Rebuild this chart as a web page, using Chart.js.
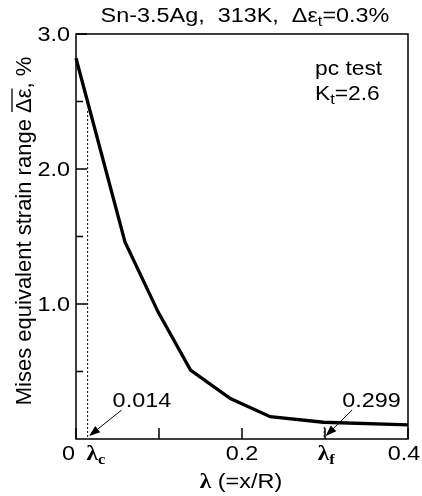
<!DOCTYPE html>
<html>
<head>
<meta charset="utf-8">
<script src="https://cdn.jsdelivr.net/npm/chart.js@4.4.1/dist/chart.umd.min.js"></script>
<style>
  html, body { margin: 0; padding: 0; background: #fff; }
  canvas { display: block; }
</style>
</head>
<body>
<canvas id="grafico" width="422" height="496"></canvas>
<script>
// valores
const lambda = [0, 0.059, 0.099, 0.138, 0.186, 0.234, 0.298, 0.4];
const rangoDeformacion = [2.82, 1.46, 0.94, 0.51, 0.30, 0.165, 0.124, 0.105];

const xTicks = [0, 0.1, 0.2, 0.3, 0.4];
const xTickLabels = ['0', '', '0.2', '', '0.4'];
const yMajor = [1, 2, 3];
const yMinor = [0.5, 1.5, 2.5];
const yTickLabels = ['1.0', '2.0', '3.0'];

// marcas lambda_c y lambda_f
const marcas = [0.014, 0.299];
const marcasTexto = ['0.014', '0.299'];
const marcasTope = [2.43, 0.09];
const marcasSub = ['c', 'f'];

const SANS = '"Liberation Sans", Arial, sans-serif';
const SERIF = '"Liberation Serif", "Times New Roman", serif';
const SX = 1.17; // la figura original esta estirada en horizontal

const medirTrozos = (ctx, trozos, sx = SX) => {
  let w = 0;
  trozos.forEach(t => {
    ctx.font = t.font;
    w += ctx.measureText(t.t).width * sx;
  });
  return w;
}

// dibuja trozos de texto (con subindices) estirados en x
const dibujarTrozos = (ctx, trozos, x, y, sx = SX) => {
  const pos = [];
  trozos.forEach(t => {
    ctx.font = t.font;
    const w = ctx.measureText(t.t).width * sx;
    ctx.save();
    ctx.translate(x, y + (t.dy || 0));
    ctx.scale(sx, 1);
    ctx.fillText(t.t, 0, 0);
    ctx.restore();
    pos.push({x, w});
    x += w;
  });
  return pos;
}

const texto = (ctx, t, x, y, font, align) => {
  const trozos = [{t, font}];
  const w = medirTrozos(ctx, trozos);
  if (align === 'right') x -= w;
  if (align === 'center') x -= w / 2;
  dibujarTrozos(ctx, trozos, x, y);
}

const flecha = (ctx, x1, y1, x2, y2) => {
  const ang = Math.atan2(y2 - y1, x2 - x1);
  const largo = 11, ancho = 4;
  const bx = x2 - largo * Math.cos(ang), by = y2 - largo * Math.sin(ang);
  ctx.beginPath();
  ctx.moveTo(x1, y1);
  ctx.lineTo(bx, by);
  ctx.lineWidth = 1;
  ctx.stroke();
  ctx.beginPath();
  ctx.moveTo(x2, y2);
  ctx.lineTo(bx + ancho * Math.sin(ang), by - ancho * Math.cos(ang));
  ctx.lineTo(bx - ancho * Math.sin(ang), by + ancho * Math.cos(ang));
  ctx.closePath();
  ctx.fill();
}

const ejesPlugin = {
  id: 'ejes',
  afterDraw(chart) {
    const ctx = chart.ctx;
    const {left, right, top, bottom} = chart.chartArea;
    const sx = chart.scales.x, sy = chart.scales.y;
    ctx.save();
    ctx.fillStyle = '#000';
    ctx.strokeStyle = '#000';

    // marco
    ctx.lineWidth = 1.5;
    ctx.strokeRect(left, top, right - left, bottom - top);

    // ticks hacia adentro
    ctx.beginPath();
    xTicks.forEach(v => {
      const px = sx.getPixelForValue(v);
      ctx.moveTo(px, bottom);
      ctx.lineTo(px, bottom - 11);
    });
    yMajor.forEach(v => {
      const py = sy.getPixelForValue(v);
      ctx.moveTo(left, py);
      ctx.lineTo(left + 11, py);
    });
    yMinor.forEach(v => {
      const py = sy.getPixelForValue(v);
      ctx.moveTo(left, py);
      ctx.lineTo(left + 7, py);
    });
    ctx.stroke();

    // etiquetas
    const fNum = '20px ' + SANS;
    ctx.textBaseline = 'middle';
    yMajor.forEach((v, i) => {
      texto(ctx, yTickLabels[i], left - 6, sy.getPixelForValue(v) + 1, fNum, 'right');
    });
    xTicks.forEach((v, i) => {
      if (!xTickLabels[i]) return;
      let px = sx.getPixelForValue(v);
      if (v === 0) px -= 7.5;
      if (v === 0.4) px -= 4;
      texto(ctx, xTickLabels[i], px, bottom + 15, fNum, 'center');
    });

    // lineas punteadas, flechas y lambda_c / lambda_f
    ctx.textBaseline = 'alphabetic';
    marcas.forEach((m, i) => {
      const px = sx.getPixelForValue(m);
      ctx.save();
      ctx.setLineDash([2, 2]);
      ctx.lineWidth = 1;
      ctx.beginPath();
      ctx.moveTo(px, sy.getPixelForValue(marcasTope[i]));
      ctx.lineTo(px, bottom);
      ctx.stroke();
      ctx.restore();

      const dx = i === 0 ? 34 : 28;
      flecha(ctx, px + dx, bottom - 29, px + 1.5, bottom - 3);
      texto(ctx, marcasTexto[i], px + (i === 0 ? 25 : 18), bottom - 32, fNum, 'left');

      const trozos = [
        {t: 'λ', font: 'bold 20px ' + SERIF},
        {t: marcasSub[i], font: 'bold 14px ' + SERIF, dy: 4}
      ];
      const w = medirTrozos(ctx, trozos);
      dibujarTrozos(ctx, trozos, i === 0 ? px - 1 : px - w / 2 + 2, bottom + 21);
    });

    // titulo eje x
    const tx = [
      {t: 'λ', font: 'bold 20px ' + SERIF},
      {t: ' (=x/R)', font: '20px ' + SANS}
    ];
    dibujarTrozos(ctx, tx, 241 - medirTrozos(ctx, tx) / 2, bottom + 49);

    // titulo superior
    const tt = [
      {t: 'Sn-3.5Ag,  313K,  Δε', font: '20px ' + SANS},
      {t: 't', font: '14px ' + SANS, dy: 4},
      {t: '=0.3%', font: '20px ' + SANS}
    ];
    dibujarTrozos(ctx, tt, (left + right) / 2 + 3 - medirTrozos(ctx, tt) / 2, 22);

    // texto dentro del grafico
    const fIn = '19.5px ' + SANS;
    texto(ctx, 'pc test', right - 93, top + 41, fIn, 'left');
    dibujarTrozos(ctx, [
      {t: 'K', font: fIn},
      {t: 't', font: '14px ' + SANS, dy: 4},
      {t: '=2.6', font: fIn}
    ], right - 93, top + 66);

    // titulo eje y con barra sobre delta epsilon
    ctx.save();
    ctx.translate(31, 231);
    ctx.rotate(-Math.PI / 2);
    const fY = '22px ' + SANS;
    const ty = [
      {t: 'Mises equivalent strain range ', font: fY},
      {t: 'Δε', font: fY},
      {t: ', %', font: fY}
    ];
    const pos = dibujarTrozos(ctx, ty, -medirTrozos(ctx, ty, 1) / 2, 0, 1);
    ctx.lineWidth = 1.3;
    ctx.beginPath();
    ctx.moveTo(pos[1].x + 1, -19);
    ctx.lineTo(pos[1].x + pos[1].w, -19);
    ctx.stroke();
    ctx.restore();

    ctx.restore();
  }
};

new Chart(document.getElementById('grafico'), {
  type: 'line',
  data: {
    labels: lambda,
    datasets: [{
      data: lambda.map((x, i) => ({x, y: rangoDeformacion[i]})),
      borderColor: '#000',
      borderWidth: 3.3,
      pointRadius: 0,
      tension: 0,
      fill: false,
      clip: false
    }]
  },
  options: {
    responsive: false,
    devicePixelRatio: 1,
    animation: false,
    layout: { padding: { left: 76, right: 14, top: 34, bottom: 57 } },
    plugins: { legend: { display: false }, tooltip: { enabled: false } },
    scales: {
      x: { type: 'linear', min: 0, max: 0.4, display: false },
      y: { type: 'linear', min: 0, max: 3, display: false }
    }
  },
  plugins: [ejesPlugin]
});
</script>
</body>
</html>
